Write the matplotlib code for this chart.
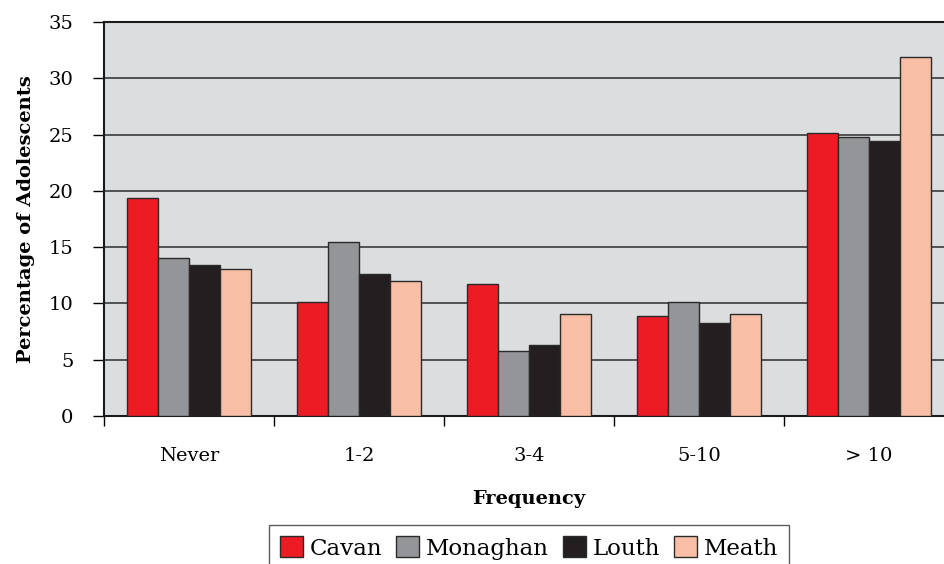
import matplotlib.pyplot as plt
import numpy as np

categories = ['Never', '1-2', '3-4', '5-10', '> 10']
counties = ['Cavan', 'Monaghan', 'Louth', 'Meath']
cavan = [19.4, 10.1, 11.7, 8.9, 25.1]
monaghan = [14.0, 15.5, 5.8, 10.1, 24.8]
louth = [13.4, 12.6, 6.3, 8.3, 24.4]
meath = [13.1, 12.0, 9.1, 9.1, 31.9]
colors = ['#ED1C24', '#939598', '#231F20', '#F9BFA6']

plt.rcParams['font.family'] = ['DejaVu Serif']

fig = plt.figure(figsize=(9.44, 5.64), dpi=100)
ax = fig.add_axes([104 / 944, 1 - 416 / 564, 850 / 944, 394 / 564])
ax.set_facecolor('#DCDDDF')

x = np.arange(len(categories))
width = 0.182
series = [cavan, monaghan, louth, meath]
for i, (name, vals) in enumerate(zip(counties, series)):
    ax.bar(x + (i - 1.5) * width, vals, width, color=colors[i],
           edgecolor='#2a2a2a', linewidth=1.0, label=name, zorder=3)

ax.set_ylim(0, 35)
ax.set_xlim(-0.5, len(categories) - 0.5)
ax.set_yticks(range(0, 36, 5))
ax.yaxis.grid(True, color='#3a3a3a', linewidth=1.2, zorder=1)
ax.set_axisbelow(True)

ax.set_xticks(x)
ax.set_xticklabels(categories, fontsize=14)
ax.tick_params(axis='x', length=0, pad=22)
ax.set_xticks(np.arange(len(categories)) - 0.5, minor=True)
ax.tick_params(axis='x', which='minor', length=7, width=1, direction='out')
ax.tick_params(axis='y', labelsize=14, length=8, width=1, direction='out', pad=14)

for s in ['top', 'left', 'bottom']:
    ax.spines[s].set_linewidth(1.5)
    ax.spines[s].set_color('#1a1a1a')
ax.spines['right'].set_visible(False)

ax.set_ylabel('Percentage of Adolescents', fontsize=14, fontweight='bold', labelpad=10)
ax.set_xlabel('Frequency', fontsize=14, fontweight='bold', labelpad=18)

fig.legend(loc='upper center', bbox_to_anchor=(529 / 944, 1 - 525 / 564), ncol=4,
           fontsize=16.5, frameon=True, fancybox=False, edgecolor='#333333',
           handlelength=1.0, handleheight=1.0, handletextpad=0.3,
           columnspacing=0.6, borderpad=0.5, borderaxespad=0)

fig.savefig('out.png', dpi=100)
